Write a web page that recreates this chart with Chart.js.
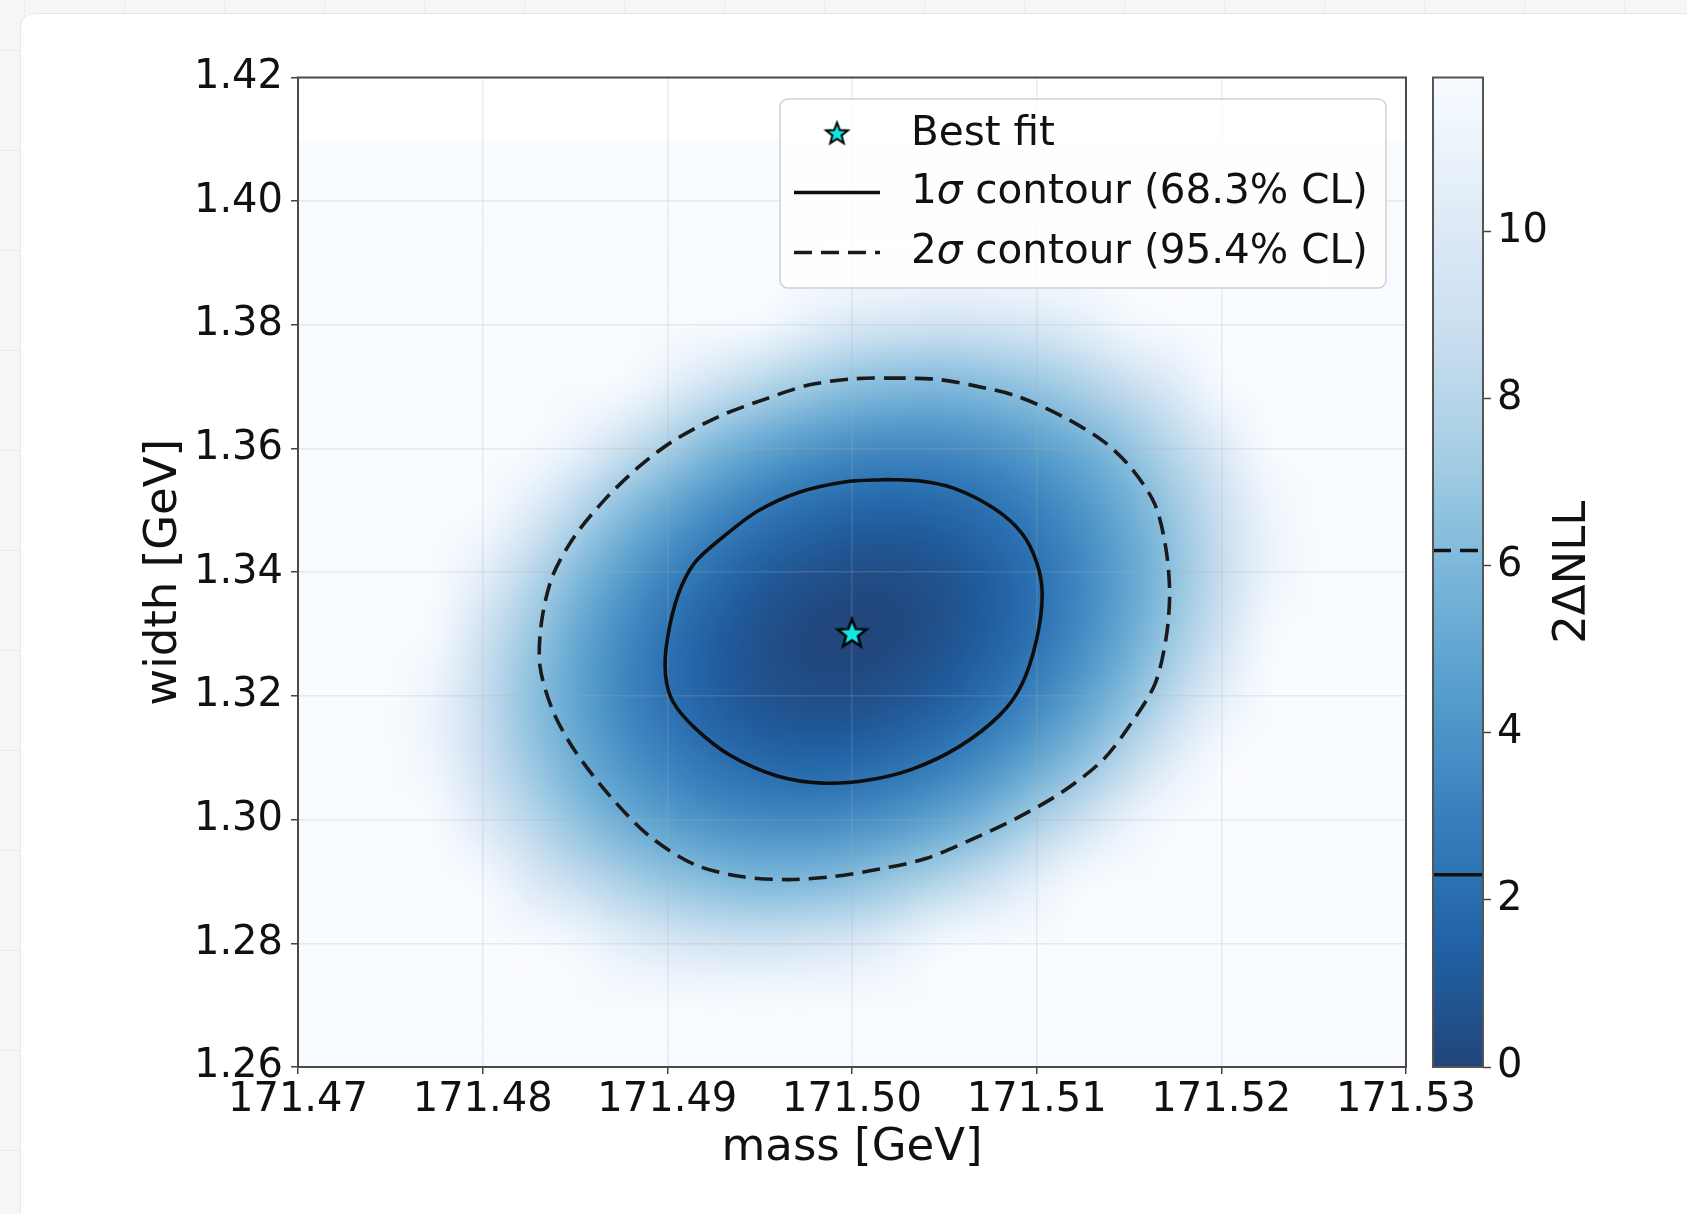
<!DOCTYPE html>
<html lang="en">
<head>
  <meta charset="UTF-8" />
  <title>2ΔNLL scan: mass vs width</title>
  <script src="https://cdn.jsdelivr.net/npm/chart.js"></script>
  <style>
    body {
      margin: 0;
      width: 1687px;
      height: 1214px;
      overflow: hidden;
      background-color: #f6f6f6;
      background-image:
        linear-gradient(to right, #ebebeb 1px, transparent 1px),
        linear-gradient(to bottom, #ebebeb 1px, transparent 1px);
      background-size: 100px 100px;
      background-position: 24px 50px;
      font-family: 'DejaVu Sans', sans-serif;
    }

    .card {
      position: absolute;
      left: 20px;
      top: 13px;
      right: -30px;
      bottom: -30px;
      background: #fff;
      border: 1px solid #e6e6e6;
      border-radius: 14px;
    }

    canvas {
      position: absolute;
      left: 0;
      top: 0;
    }
  </style>
</head>
<body>
  <div class="card"></div>
  <canvas id="scan" width="1687" height="1214"></canvas>

  <script>
    // axes
    const massTicks = [171.47, 171.48, 171.49, 171.50, 171.51, 171.52, 171.53];
    const widthTicks = [1.26, 1.28, 1.30, 1.32, 1.34, 1.36, 1.38, 1.40, 1.42];
    const nllTicks = [0, 2, 4, 6, 8, 10];
    const nllMax = 11.84;
    const contourLevels = [2.30, 6.18];

    // extent of the scanned region
    const scanMassRange = [171.47, 171.53];
    const scanWidthRange = [1.26, 1.41];

    // 2ΔNLL (values above the colour scale are saturated)
    const gridMass = [171.4750, 171.4775, 171.4800, 171.4825, 171.4850, 171.4875, 171.4900,
                      171.4925, 171.4950, 171.4975, 171.5000, 171.5025, 171.5050, 171.5075,
                      171.5100, 171.5125, 171.5150, 171.5175, 171.5200, 171.5225, 171.5250];
    const gridWidth = [1.39, 1.38, 1.37, 1.36, 1.35, 1.34, 1.33, 1.32, 1.31, 1.30, 1.29, 1.28, 1.27];
    const nllGrid = [
      [12, 12, 12, 12, 12, 12, 12, 12, 12, 12, 12, 12, 12, 12, 12, 12, 12, 12, 12, 12, 12],
      [12, 12, 12, 12, 12, 12, 12, 12, 11.8, 10.8, 10.0, 9.6, 9.4, 9.5, 9.9, 10.6, 11.6, 12, 12, 12, 12],
      [12, 12, 12, 12, 12, 12, 10.7, 9.2, 8.0, 7.1, 6.4, 6.1, 6.0, 6.3, 6.8, 7.6, 8.7, 10.1, 11.8, 12, 12],
      [12, 12, 12, 12, 11.0, 9.0, 7.4, 6.0, 4.9, 4.1, 3.6, 3.4, 3.5, 3.8, 4.5, 5.4, 6.6, 8.2, 10.0, 12, 12],
      [12, 12, 12, 10.4, 8.2, 6.4, 4.9, 3.6, 2.7, 2.0, 1.6, 1.5, 1.7, 2.2, 3.0, 4.0, 5.4, 7.0, 8.9, 11.1, 12],
      [12, 12, 10.6, 8.3, 6.3, 4.6, 3.2, 2.1, 1.2, 0.7, 0.4, 0.4, 0.7, 1.3, 2.2, 3.4, 4.9, 6.6, 8.7, 11.0, 12],
      [12, 11.7, 9.2, 7.1, 5.2, 3.6, 2.3, 1.3, 0.6, 0.1, 0, 0.1, 0.6, 1.3, 2.3, 3.6, 5.2, 7.1, 9.2, 11.7, 12],
      [12, 11.0, 8.7, 6.6, 4.9, 3.4, 2.2, 1.3, 0.7, 0.4, 0.4, 0.7, 1.2, 2.1, 3.2, 4.6, 6.3, 8.3, 10.6, 12, 12],
      [12, 11.1, 8.9, 7.0, 5.4, 4.0, 3.0, 2.2, 1.7, 1.5, 1.6, 2.0, 2.7, 3.6, 4.9, 6.4, 8.2, 10.4, 12, 12, 12],
      [12, 12, 10.0, 8.2, 6.6, 5.4, 4.5, 3.8, 3.5, 3.4, 3.6, 4.1, 4.9, 6.0, 7.4, 9.0, 11.0, 12, 12, 12, 12],
      [12, 12, 11.8, 10.1, 8.7, 7.6, 6.8, 6.3, 6.0, 6.1, 6.4, 7.1, 8.0, 9.2, 10.7, 12, 12, 12, 12, 12, 12],
      [12, 12, 12, 12, 11.6, 10.6, 9.9, 9.5, 9.4, 9.6, 10.0, 10.8, 11.8, 12, 12, 12, 12, 12, 12, 12, 12],
      [12, 12, 12, 12, 12, 12, 12, 12, 12, 12, 12, 12, 12, 12, 12, 12, 12, 12, 12, 12, 12]
    ];

    // best fit
    const bestFitMass = [171.50];
    const bestFitWidth = [1.33];

    // 1 sigma contour (2ΔNLL = 2.30)
    const sigma1Mass = [171.5019, 171.4996, 171.4971, 171.4949, 171.4931, 171.4915, 171.4906, 171.4900,
                        171.4899, 171.4903, 171.4915, 171.4934, 171.4959, 171.4984, 171.5009, 171.5033,
                        171.5058, 171.5080, 171.5092, 171.5100, 171.5103, 171.5100, 171.5092, 171.5077,
                        171.5055, 171.5036];
    const sigma1Width = [1.3550, 1.3546, 1.3529, 1.3499, 1.3459, 1.3416, 1.3365, 1.3292,
                         1.3235, 1.3191, 1.3148, 1.3104, 1.3071, 1.3059, 1.3064, 1.3082,
                         1.3118, 1.3169, 1.3219, 1.3292, 1.3365, 1.3416, 1.3463, 1.3503,
                         1.3536, 1.3548];

    // 2 sigma contour (2ΔNLL = 6.18)
    const sigma2Mass = [171.5027, 171.5002, 171.4977, 171.4953, 171.4928, 171.4903, 171.4884, 171.4866,
                        171.4850, 171.4838, 171.4832, 171.4831, 171.4838, 171.4850, 171.4869, 171.4890,
                        171.4915, 171.4940, 171.4965, 171.4990, 171.5015, 171.5040, 171.5064, 171.5089,
                        171.5114, 171.5136, 171.5151, 171.5164, 171.5170, 171.5172, 171.5170, 171.5164,
                        171.5151, 171.5136, 171.5114, 171.5089, 171.5064, 171.5046];
    const sigma2Width = [1.3714, 1.3713, 1.3703, 1.3680, 1.3652, 1.3612, 1.3569, 1.3517,
                         1.3459, 1.3395, 1.3322, 1.3249, 1.3176, 1.3111, 1.3038, 1.2974,
                         1.2927, 1.2908, 1.2903, 1.2908, 1.2920, 1.2937, 1.2967, 1.3002,
                         1.3045, 1.3097, 1.3155, 1.3219, 1.3292, 1.3365, 1.3438, 1.3510,
                         1.3569, 1.3612, 1.3652, 1.3685, 1.3703, 1.3712];

    // Blues colormap, reversed, drawn at alpha 0.9 on white
    const blues = [[247, 251, 255], [222, 235, 247], [198, 219, 239], [158, 202, 225], [107, 174, 214],
                   [66, 146, 198], [33, 113, 181], [8, 81, 156], [8, 48, 107]];

    function nllColor(v) {
      const t = 1 - Math.min(Math.max(v / nllMax, 0), 1);
      const p = t * (blues.length - 1);
      const i = Math.min(Math.floor(p), blues.length - 2);
      const f = p - i;
      return blues[i].map((a, k) => Math.round((a + (blues[i + 1][k] - a) * f) * 0.9 + 25.5));
    }
    const rgb = c => `rgb(${c[0]},${c[1]},${c[2]})`;

    const FONT = "'DejaVu Sans', sans-serif";
    Chart.defaults.font.family = FONT;
    Chart.defaults.color = '#111';

    // heat map as a small image, one pixel per grid point
    const heat = document.createElement('canvas');
    heat.width = gridMass.length;
    heat.height = gridWidth.length;
    const hctx = heat.getContext('2d');
    const img = hctx.createImageData(heat.width, heat.height);
    nllGrid.forEach((row, r) => row.forEach((v, c) => {
      const col = nllColor(v);
      const k = (r * heat.width + c) * 4;
      img.data[k] = col[0];
      img.data[k + 1] = col[1];
      img.data[k + 2] = col[2];
      img.data[k + 3] = 255;
    }));
    hctx.putImageData(img, 0, 0);

    function starImage(r, lw) {
      const c = document.createElement('canvas');
      const s = Math.ceil(2 * r + 2 * lw + 2);
      c.width = c.height = s;
      const g = c.getContext('2d');
      g.translate(s / 2, s / 2);
      g.beginPath();
      for (let k = 0; k < 10; k++) {
        const rad = k % 2 ? r * 0.42 : r;
        const a = -Math.PI / 2 + k * Math.PI / 5;
        g.lineTo(rad * Math.cos(a), rad * Math.sin(a));
      }
      g.closePath();
      g.fillStyle = '#14e6e6';
      g.fill();
      g.lineWidth = lw;
      g.lineJoin = 'miter';
      g.strokeStyle = '#000';
      g.stroke();
      return c;
    }
    const starPlot = starImage(15, 2.5);
    const starLegend = starImage(11.5, 2);

    const loop = (xs, ys) => xs.concat(xs[0]).map((m, i) => ({ x: m, y: ys.concat(ys[0])[i] }));

    function sigmaText(ctx, text, x, y, size) {
      const parts = text.split('σ');
      ctx.font = `${size}px ${FONT}`;
      ctx.fillText(parts[0], x, y);
      if (parts.length < 2) return;
      x += ctx.measureText(parts[0]).width;
      ctx.font = `italic ${size}px ${FONT}`;
      ctx.fillText('σ', x, y);
      x += ctx.measureText('σ').width;
      ctx.font = `${size}px ${FONT}`;
      ctx.fillText(parts[1], x, y);
    }

    const scanPlugin = {
      id: 'scan',
      beforeDraw(chart) {
        const { ctx, scales: { x, y, cbar } } = chart;

        // heat map, clipped to the scanned region
        const left = x.getPixelForValue(scanMassRange[0]);
        const right = x.getPixelForValue(scanMassRange[1]);
        const top = y.getPixelForValue(scanWidthRange[1]);
        const bottom = y.getPixelForValue(scanWidthRange[0]);
        ctx.save();
        ctx.beginPath();
        ctx.rect(left, top, right - left, bottom - top);
        ctx.clip();
        ctx.fillStyle = rgb(nllColor(nllMax));
        ctx.fillRect(left, top, right - left, bottom - top);
        const dm = (gridMass[1] - gridMass[0]) / 2;
        const dw = (gridWidth[0] - gridWidth[1]) / 2;
        const hx0 = x.getPixelForValue(gridMass[0] - dm);
        const hx1 = x.getPixelForValue(gridMass[gridMass.length - 1] + dm);
        const hy0 = y.getPixelForValue(gridWidth[0] + dw);
        const hy1 = y.getPixelForValue(gridWidth[gridWidth.length - 1] - dw);
        ctx.imageSmoothingEnabled = true;
        ctx.imageSmoothingQuality = 'high';
        ctx.filter = 'blur(10px)';
        ctx.drawImage(heat, hx0, hy0, hx1 - hx0, hy1 - hy0);
        ctx.restore();

        // colour bar
        const cbRight = cbar.left;
        const cbLeft = cbRight - 50;
        const cbTop = cbar.getPixelForValue(nllMax);
        const cbBottom = cbar.getPixelForValue(0);
        const grad = ctx.createLinearGradient(0, cbBottom, 0, cbTop);
        for (let k = 0; k <= 24; k++) grad.addColorStop(k / 24, rgb(nllColor(nllMax * k / 24)));
        ctx.fillStyle = grad;
        ctx.fillRect(cbLeft, cbTop, cbRight - cbLeft, cbBottom - cbTop);
      },
      afterDraw(chart) {
        const { ctx, chartArea: a, scales: { cbar } } = chart;
        const ds = chart.data.datasets;
        ctx.save();

        // axes frame
        ctx.lineWidth = 2;
        ctx.strokeStyle = '#4a4a4a';
        ctx.strokeRect(a.left, a.top, a.right - a.left, a.bottom - a.top);

        // colour bar: contour levels, outline, label
        const cbRight = cbar.left;
        const cbLeft = cbRight - 50;
        const cbTop = cbar.getPixelForValue(nllMax);
        const cbBottom = cbar.getPixelForValue(0);
        contourLevels.forEach((lv, i) => {
          const py = cbar.getPixelForValue(lv);
          ctx.beginPath();
          ctx.setLineDash(ds[i].borderDash || []);
          ctx.lineWidth = 3.5;
          ctx.strokeStyle = '#111';
          ctx.moveTo(cbLeft, py);
          ctx.lineTo(cbRight, py);
          ctx.stroke();
        });
        ctx.setLineDash([]);
        ctx.lineWidth = 2;
        ctx.strokeStyle = '#555';
        ctx.strokeRect(cbLeft, cbTop, cbRight - cbLeft, cbBottom - cbTop);

        ctx.save();
        ctx.translate(cbRight + 90, (cbTop + cbBottom) / 2);
        ctx.rotate(-Math.PI / 2);
        ctx.fillStyle = '#111';
        ctx.font = `45px ${FONT}`;
        ctx.textAlign = 'center';
        ctx.textBaseline = 'middle';
        ctx.fillText('2ΔNLL', 0, 0);
        ctx.restore();

        // legend
        const bx = a.right - 626, by = a.top + 21.5, bw = 606, bh = 189;
        ctx.beginPath();
        ctx.roundRect(bx, by, bw, bh, 8);
        ctx.fillStyle = 'rgba(255,255,255,0.8)';
        ctx.fill();
        ctx.lineWidth = 1.5;
        ctx.strokeStyle = 'rgba(204,204,204,0.9)';
        ctx.stroke();

        const rows = [by + 35, by + 93.5, by + 153.5];
        const items = [ds[2], ds[0], ds[1]];
        items.forEach((d, i) => {
          const ry = rows[i];
          if (d.pointStyle) {
            ctx.drawImage(starLegend, bx + 57 - starLegend.width / 2, ry - starLegend.height / 2);
          } else {
            ctx.beginPath();
            ctx.setLineDash(d.borderDash || []);
            ctx.lineWidth = d.borderWidth;
            ctx.strokeStyle = d.borderColor;
            ctx.moveTo(bx + 14, ry);
            ctx.lineTo(bx + 100, ry);
            ctx.stroke();
            ctx.setLineDash([]);
          }
          ctx.fillStyle = '#111';
          ctx.textAlign = 'left';
          ctx.textBaseline = 'middle';
          sigmaText(ctx, d.label, bx + 131, ry, 40.5);
        });
        ctx.restore();
      }
    };

    const gridColor = 'rgba(175,175,175,0.22)';

    new Chart(document.getElementById('scan'), {
      type: 'scatter',
      data: {
        datasets: [
          {
            label: '1σ contour (68.3% CL)',
            data: loop(sigma1Mass, sigma1Width),
            showLine: true,
            borderColor: '#0d0d0d',
            borderWidth: 3.6,
            pointRadius: 0,
            tension: 0.3,
            fill: false
          },
          {
            label: '2σ contour (95.4% CL)',
            data: loop(sigma2Mass, sigma2Width),
            showLine: true,
            borderColor: '#1a1a1a',
            borderWidth: 3.6,
            borderDash: [18, 9],
            pointRadius: 0,
            tension: 0.3,
            fill: false
          },
          {
            label: 'Best fit',
            data: bestFitMass.map((m, i) => ({ x: m, y: bestFitWidth[i] })),
            pointStyle: starPlot,
            pointRadius: 15
          }
        ]
      },
      options: {
        responsive: false,
        animation: false,
        events: [],
        layout: { padding: { left: 120, right: 4, top: 77.5, bottom: 20 } },
        scales: {
          x: {
            type: 'linear',
            min: massTicks[0],
            max: massTicks[massTicks.length - 1],
            afterBuildTicks: s => { s.ticks = massTicks.map(v => ({ value: v })); },
            afterFit: s => { s.height = 127; },
            ticks: { callback: v => v.toFixed(2), font: { size: 40 }, padding: 3, maxRotation: 0, autoSkip: false },
            grid: { color: gridColor, lineWidth: 1.5, tickLength: 7, tickColor: '#444', tickWidth: 1.5 },
            border: { display: false },
            title: { display: true, text: 'mass [GeV]', font: { size: 45 }, padding: { top: 0, bottom: 19 } }
          },
          y: {
            type: 'linear',
            min: widthTicks[0],
            max: widthTicks[widthTicks.length - 1],
            afterBuildTicks: s => { s.ticks = widthTicks.map(v => ({ value: v })); },
            afterFit: s => { s.width = 178; },
            ticks: { callback: v => v.toFixed(2), font: { size: 40 }, padding: 8, autoSkip: false },
            grid: { color: gridColor, lineWidth: 1.5, tickLength: 7, tickColor: '#444', tickWidth: 1.5 },
            border: { display: false },
            title: { display: true, text: 'width [GeV]', font: { size: 45 }, padding: { top: 17, bottom: 0 } }
          },
          gap: {
            type: 'linear',
            position: 'right',
            weight: 0,
            afterFit: s => { s.width = 77; },
            grid: { display: false },
            ticks: { display: false },
            border: { display: false }
          },
          cbar: {
            type: 'linear',
            position: 'right',
            weight: 1,
            min: 0,
            max: nllMax,
            afterBuildTicks: s => { s.ticks = nllTicks.map(v => ({ value: v })); },
            afterFit: s => { s.width = 200; },
            ticks: { font: { size: 40 }, padding: 6 },
            grid: { drawOnChartArea: false, tickLength: 8, tickColor: '#444', tickWidth: 1.5 },
            border: { display: false }
          }
        },
        plugins: {
          legend: { display: false },
          tooltip: { enabled: false }
        }
      },
      plugins: [scanPlugin]
    });
  </script>
</body>
</html>
